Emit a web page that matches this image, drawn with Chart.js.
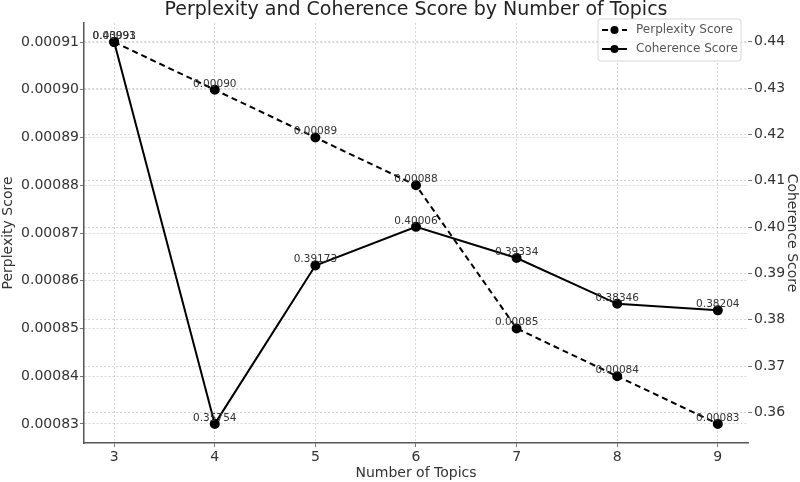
<!DOCTYPE html>
<html>
<head>
<meta charset="utf-8">
<script src="https://cdn.jsdelivr.net/npm/chart.js@4.4.1/dist/chart.umd.min.js"></script>
<style>
html,body{margin:0;padding:0;background:#fff;}
#wrap{width:800px;height:482px;}
</style>
</head>
<body>
<div id="wrap"><canvas id="c" width="800" height="482"></canvas></div>
<script>
const topics = [3, 4, 5, 6, 7, 8, 9];
const perplexity = [0.00091, 0.00090, 0.00089, 0.00088, 0.00085, 0.00084, 0.00083];
const coherence = [0.43993, 0.35754, 0.39173, 0.40006, 0.39334, 0.38346, 0.38204];
const perplexityTicks = [0.00083, 0.00084, 0.00085, 0.00086, 0.00087, 0.00088, 0.00089, 0.00090, 0.00091];
const coherenceTicks = [0.36, 0.37, 0.38, 0.39, 0.40, 0.41, 0.42, 0.43, 0.44];
const titleText = 'Perplexity and Coherence Score by Number of Topics';

const FONT = "'DejaVu Sans', sans-serif";
const gridStyle = {color: 'rgba(0,0,0,0.2)', lineWidth: 0.8, tickLength: 4, tickColor: '#555', drawTicks: true};

function pad(arr) { // 5% margins like the original
  const mn = Math.min(...arr), mx = Math.max(...arr), m = (mx - mn) * 0.05;
  return [mn - m, mx + m];
}
const [pMin, pMax] = pad(perplexity);
const [cMin, cMax] = pad(coherence);
const [xMin, xMax] = pad(topics);

const labelPlugin = {
  id: 'pointLabels',
  afterDatasetsDraw(chart) {
    const ctx = chart.ctx;
    ctx.save();
    ctx.font = "10.5px " + FONT;
    ctx.fillStyle = '#333';
    ctx.textAlign = 'center';
    ctx.textBaseline = 'middle';
    chart.data.datasets.forEach((ds, i) => {
      const meta = chart.getDatasetMeta(i);
      meta.data.forEach((pt, j) => {
        ctx.fillText(ds.data[j].y.toFixed(5), pt.x, pt.y - 6);
      });
    });
    ctx.restore();
  }
};

const titleLegendPlugin = {
  id: 'titleLegend',
  afterDraw(chart) {
    const ctx = chart.ctx, a = chart.chartArea;
    ctx.save();
    ctx.font = "19px " + FONT;
    ctx.fillStyle = '#222';
    ctx.textAlign = 'center';
    ctx.textBaseline = 'middle';
    ctx.fillText(titleText, (a.left + a.right) / 2, 10);
    // legend box
    const bx = a.right - 150, by = a.top - 4, bw = 143, bh = 42;
    ctx.fillStyle = 'rgba(255,255,255,0.8)';
    ctx.strokeStyle = '#d6d6d6';
    ctx.lineWidth = 1;
    ctx.beginPath();
    ctx.roundRect(bx, by, bw, bh, 3);
    ctx.fill(); ctx.stroke();
    ctx.font = "12px " + FONT;
    ctx.textAlign = 'left';
    chart.data.datasets.forEach((ds, i) => {
      const y = by + 11 + i * 19;
      ctx.strokeStyle = ds.borderColor;
      ctx.lineWidth = 2;
      ctx.setLineDash(ds.borderDash || []);
      ctx.beginPath(); ctx.moveTo(bx + 4, y); ctx.lineTo(bx + 29, y); ctx.stroke();
      ctx.setLineDash([]);
      ctx.fillStyle = ds.pointBackgroundColor;
      ctx.beginPath(); ctx.arc(bx + 16.5, y, 4, 0, Math.PI * 2); ctx.fill();
      ctx.fillStyle = '#555';
      ctx.fillText(ds.label, bx + 38, y);
    });
    ctx.restore();
  }
};

new Chart(document.getElementById('c'), {
  type: 'line',
  data: {
    datasets: [
      {
        label: 'Perplexity Score',
        data: topics.map((t, i) => ({x: t, y: perplexity[i]})),
        yAxisID: 'y',
        borderColor: '#000', backgroundColor: '#000',
        pointBackgroundColor: '#000', pointBorderColor: '#000',
        borderWidth: 2, borderDash: [6, 4], pointRadius: 4, tension: 0
      },
      {
        label: 'Coherence Score',
        data: topics.map((t, i) => ({x: t, y: coherence[i]})),
        yAxisID: 'y1',
        borderColor: '#000', backgroundColor: '#000',
        pointBackgroundColor: '#000', pointBorderColor: '#000',
        borderWidth: 2, pointRadius: 4, tension: 0
      }
    ]
  },
  options: {
    responsive: false,
    animation: false,
    layout: {padding: {top: 23, left: 0, right: 0, bottom: 0}},
    plugins: {legend: {display: false}, title: {display: false}, tooltip: {enabled: false}},
    scales: {
      x: {
        type: 'linear', min: xMin, max: xMax,
        afterBuildTicks: s => { s.ticks = topics.map(v => ({value: v})); },
        afterFit: s => { s.height = 39; },
        grid: Object.assign({}, gridStyle),
        border: {display: true, color: '#555', width: 1.5, dash: [2, 2]},
        ticks: {font: {family: FONT, size: 14}, color: '#333', padding: 2, callback: v => String(v)},
        title: {display: true, text: 'Number of Topics', font: {family: FONT, size: 14}, color: '#333', padding: 0}
      },
      y: {
        type: 'linear', position: 'left', min: pMin, max: pMax,
        afterBuildTicks: s => { s.ticks = perplexityTicks.map(v => ({value: v})); },
        afterFit: s => { s.width = 84; },
        grid: Object.assign({}, gridStyle),
        border: {display: true, color: '#555', width: 1.5, dash: [2, 2]},
        ticks: {font: {family: FONT, size: 14}, color: '#333', padding: 1, callback: v => v.toFixed(5)},
        title: {display: true, text: 'Perplexity Score', font: {family: FONT, size: 14}, color: '#333', padding: 0}
      },
      y1: {
        type: 'linear', position: 'right', min: cMin, max: cMax,
        afterBuildTicks: s => { s.ticks = coherenceTicks.map(v => ({value: v})); },
        afterFit: s => { s.width = 52; },
        grid: Object.assign({}, gridStyle),
        border: {display: false, dash: [2, 2]},
        ticks: {font: {family: FONT, size: 14}, color: '#333', padding: 2, callback: v => v.toFixed(2)},
        title: {display: true, text: 'Coherence Score', font: {family: FONT, size: 14}, color: '#333', padding: 0}
      }
    }
  },
  plugins: [labelPlugin, titleLegendPlugin]
});
</script>
</body>
</html>
